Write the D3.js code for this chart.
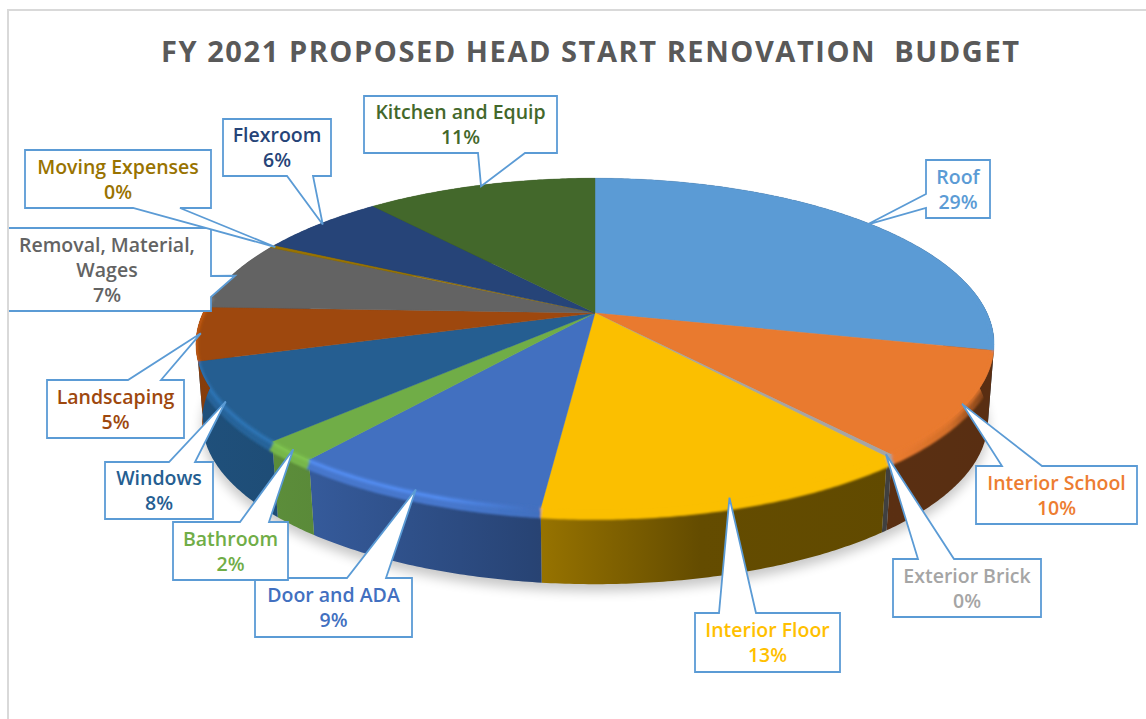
<!DOCTYPE html>
<html>
<head>
<meta charset="utf-8">
<script src="https://cdn.jsdelivr.net/npm/d3@7/dist/d3.min.js"></script>
<style>
html,body{margin:0;padding:0;background:#fff}
svg{display:block}
text{font-family:"Open Sans",sans-serif}
</style>
</head>
<body>
<svg id="chart" width="1146" height="719"></svg>
<script>
const titleText = "FY 2021 PROPOSED HEAD START RENOVATION  BUDGET";
const categories = ["Roof","Interior School","Exterior Brick","Interior Floor","Door and ADA","Bathroom","Windows","Landscaping","Removal, Material, Wages","Moving Expenses","Flexroom","Kitchen and Equip"];
const values = [28.6,10.15,0.25,12.8,8.9,2.0,7.7,5.2,6.7,0.3,6.2,11.2];
const colors = ["#5B9BD5","#E97A2F","#A5A5A5","#FBBF00","#4270C0","#70AD47","#255E91","#9E480E","#636363","#997300","#264478","#43682B"];
// Callout boxes: x, y, w, h, side the pointer leaves from, two base positions along that side
const callouts = [
  [926,160,64,58,"left",194,208],
  [976,466,161,58,"top",1002,1042],
  [893,559,148,58,"top",918,954],
  [695,613,145,59,"top",719,756],
  [255,578,157,59,"top",347,386],
  [173,522,115,58,"top",240,269],
  [105,462,108,57,"top",169,195],
  [47,380,137,58,"top",128,161],
  [8,228,203,83,"right",276,297],
  [25,150,186,58,"bottom",133,180],
  [223,119,108,57,"bottom",287,313],
  [364,96,193,57,"bottom",478,525]
];
const labelLines = [["Roof"],["Interior School"],["Exterior Brick"],["Interior Floor"],["Door and ADA"],["Bathroom"],["Windows"],["Landscaping"],["Removal, Material,","Wages"],["Moving Expenses"],["Flexroom"],["Kitchen and Equip"]];

const svg = d3.select("#chart");
const defs = svg.append("defs");
const cx = 595, cy = 313, Rx = 392, Sy = 160, persp = 0.187, depth = 78, bottomR = 0.985;

const pie = d3.pie().sort(null).value(d => d);
const arcs = pie(values);
const pct = d3.format(".0%");
const total = d3.sum(values);

function project(a, r, drop) {
  const u = r * Math.sin(a), v = -r * Math.cos(a), den = 1 - persp * v;
  return [cx + Rx * u / den, cy + Sy * v / den + (drop || 0)];
}
function arcPts(a0, a1, r, drop) {
  const n = Math.max(2, Math.ceil((a1 - a0) / 0.01));
  return d3.range(n + 1).map(i => project(a0 + (a1 - a0) * i / n, r, drop));
}
const line = d3.line();

// brightness along x for the side wall, the rounded bevel band, and its highlight
const wallShade = d3.scaleLinear().domain([150,200,315,540,700,1000]).range([0.9,0.85,0.8,0.6,0.4,0.38]);
const bandShade = d3.scaleLinear().domain([150,460,540,900,950,985,1000]).range([1.06,1.06,1.0,1.0,0.9,0.55,0.25]);
const lightShade = d3.scaleLinear().domain([150,440,530,1000]).range([1.3,1.3,1.0,1.0]);
const stopsX = [150,200,315,440,460,530,540,700,900,950,985,1000];

function shadeGradient(id, color, shade) {
  const g = defs.append("linearGradient").attr("id", id).attr("gradientUnits","userSpaceOnUse")
    .attr("x1",150).attr("x2",1000).attr("y1",0).attr("y2",0);
  const c = d3.rgb(color);
  stopsX.forEach(x => {
    const k = shade(x);
    g.append("stop").attr("offset",(x-150)/850)
      .attr("stop-color", d3.rgb(Math.min(255,c.r*k),Math.min(255,c.g*k),Math.min(255,c.b*k)).formatHex());
  });
}
colors.forEach((c,i) => {
  shadeGradient("wall"+i,c,wallShade);
  shadeGradient("band"+i,c,bandShade);
  shadeGradient("light"+i,c,lightShade);
});

const blur = (id, sd) => defs.append("filter").attr("id",id).attr("x","-15%").attr("y","-15%").attr("width","130%").attr("height","130%")
  .append("feGaussianBlur").attr("stdDeviation",sd);
blur("shadow",6); blur("bandBlur",1.3); blur("lightBlur",1.4);

// title
svg.append("text").attr("x",590).attr("y",62).attr("text-anchor","middle")
  .attr("font-size",29).attr("font-weight",700).attr("fill","#595959")
  .attr("xml:space","preserve").style("white-space","pre")
  .attr("textLength",858).attr("lengthAdjust","spacing").text(titleText);

// soft shadow under the pie
svg.append("path").attr("filter","url(#shadow)").attr("fill","#000").attr("opacity",0.22)
  .attr("d", line(arcPts(0,2*Math.PI,bottomR,depth+7))+"Z");

// side wall
svg.append("g").selectAll("path").data(arcs).join("path")
  .attr("fill",(d,i)=>`url(#wall${i})`)
  .attr("d",d=>{
    const top = arcPts(d.startAngle,d.endAngle,1,0);
    const bot = arcPts(d.startAngle,d.endAngle,bottomR,depth).reverse();
    return line(top.concat(bot))+"Z";
  });

// silhouette used to keep the bevel inside the pie
const clip = defs.append("clipPath").attr("id","silhouette");
clip.append("path").attr("d",line(arcPts(0,2*Math.PI,1,0))+"Z");
clip.append("path").attr("d",line(arcPts(0,2*Math.PI,bottomR,depth))+"Z");
clip.append("path").attr("d",line(arcs.flatMap(d=>arcPts(d.startAngle,d.endAngle,1,0)).filter(p=>p[1]>330).concat(
  arcs.flatMap(d=>arcPts(d.startAngle,d.endAngle,bottomR,depth)).filter(p=>p[1]>330).reverse()))+"Z");

// rounded bevel band on the side of the circle facing the viewer
const rimFrom = 80*Math.PI/180, rimTo = 276*Math.PI/180;
const front = arcs.filter(d=>d.endAngle>rimFrom && d.startAngle<rimTo);
const clipped = d=>[Math.max(d.startAngle,rimFrom),Math.min(d.endAngle,rimTo)];
svg.append("g").attr("clip-path","url(#silhouette)").append("g").attr("filter","url(#bandBlur)").attr("fill","none")
  .selectAll("path").data(front).join("path")
  .attr("stroke",d=>`url(#band${d.index})`).attr("stroke-width",12)
  .attr("d",d=>{const [a,b]=clipped(d);return line(arcPts(a,b,1,4));});

// top faces
svg.append("g").selectAll("path").data(arcs).join("path")
  .attr("fill",(d,i)=>colors[i])
  .attr("stroke",(d,i)=>colors[i]).attr("stroke-width",0.4)
  .attr("d",d=>line([[cx,cy]].concat(arcPts(d.startAngle,d.endAngle,1,0)))+"Z");

// highlight running along the rim
svg.append("g").attr("clip-path","url(#silhouette)").append("g").attr("filter","url(#lightBlur)").attr("fill","none")
  .selectAll("path").data(front).join("path")
  .attr("stroke",d=>`url(#light${d.index})`).attr("stroke-width",3.5)
  .attr("stroke-opacity",d=>d.index===5?0.35:0.85)
  .attr("d",d=>{const [a,b]=clipped(d);return line(arcPts(a,b,1,1));});

// callouts
function outline(d, i) {
  const [x,y,w,h,side,a,b] = callouts[i];
  const mid = (d.startAngle+d.endAngle)/2;
  const tip = project(mid, 0.99, 0);
  let pts;
  if (side==="top") pts=[[x,y],[a,y],tip,[b,y],[x+w,y],[x+w,y+h],[x,y+h]];
  if (side==="bottom") pts=[[x,y],[x+w,y],[x+w,y+h],[b,y+h],tip,[a,y+h],[x,y+h]];
  if (side==="left") pts=[[x,y],[x+w,y],[x+w,y+h],[x,y+h],[x,b],tip,[x,a]];
  if (side==="right") pts=[[x,y],[x+w,y],[x+w,a],tip,[x+w,b],[x+w,y+h],[x,y+h]];
  return line(pts)+"Z";
}
const boxes = svg.append("g").selectAll("g").data(arcs).join("g");
boxes.append("path").attr("d",outline).attr("fill","#fff")
  .attr("stroke","#5B9BD5").attr("stroke-width",1.8).attr("stroke-linejoin","miter");
const textColors = colors.map((c,i)=> i===3 ? "#FFC000" : i===1 ? "#ED7D31" : c);
boxes.each(function(d,i){
  const [x,y,w,h] = callouts[i];
  const lines = labelLines[i].concat([pct(d.value/total)]);
  const centre = (i===8) ? 107 : x+w/2;
  const lh = 25, first = y+h/2-(lines.length-1)*lh/2+7;
  d3.select(this).selectAll("text").data(lines).join("text")
    .attr("x",centre).attr("y",(t,j)=>first+j*lh)
    .attr("text-anchor","middle").attr("font-size",19.5).attr("font-weight",600)
    .attr("fill",textColors[i]).text(t=>t);
});

// chart frame
svg.append("path").attr("d","M8,719V10H1146").attr("fill","none").attr("stroke","#d9d9d9").attr("stroke-width",2);
</script>
</body>
</html>
